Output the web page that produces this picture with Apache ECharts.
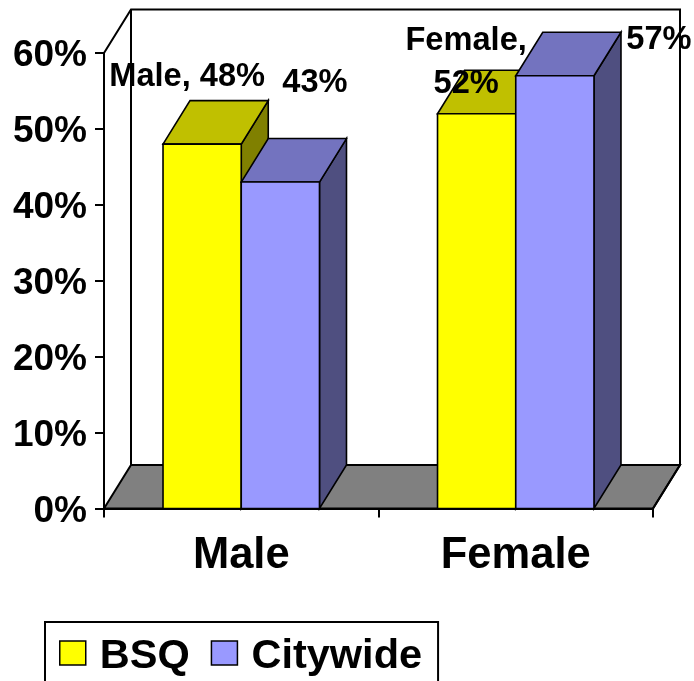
<!DOCTYPE html>
<html><head><meta charset="utf-8">
<style>html,body{margin:0;padding:0;background:#fff}#c{width:694px;height:681px}</style>
<script src="https://cdn.jsdelivr.net/npm/echarts@6/dist/echarts.min.js"></script>
</head><body><div id="c"></div>
<script>
const categories = ['Male', 'Female'];
const bsqValues = [48, 52];
const citywideValues = [43, 57];
const bsqLabels = ['Male, 48%', 'Female,\n52%'];
const citywideLabels = ['43%', '57%'];
const bsqLabelOffsets = [[-15, -67], [-10.5, -51.5]];
const citywideLabelOffsets = [[34.5, -99], [104, -36]];
const DX = 27, DY = -43.5, FONT = '"Liberation Sans", Arial, sans-serif';

function wallItem(params, api) {
  const c = params.coordSys;
  const l = c.x, r = c.x + c.width, t = c.y, b = c.y + c.height;
  const line = { stroke: '#000', lineWidth: 2, fill: null };
  return { type: 'group', children: [
    { type: 'polygon', shape: { points: [[l, b], [l + DX, b + DY], [r + DX, b + DY], [r, b]] },
      style: { fill: '#808080', stroke: '#000', lineWidth: 2 } },
    { type: 'polyline', shape: { points: [[l, t], [l + DX, t + DY], [r + DX, t + DY], [r + DX, b + DY], [r, b]] }, style: line },
    { type: 'polyline', shape: { points: [[l + DX, t + DY], [l + DX, b + DY]] }, style: line }
  ] };
}

function barRenderer(slot, front, top, side, labels, offsets) {
  return function (params, api) {
    const i = api.value(0);
    const p = api.coord([i, api.value(1)]);
    const base = api.coord([i, 0]);
    const band = api.size([1, 0])[0];
    const w = band * 0.285;
    const x0 = p[0] + (slot === 0 ? -w : 0), x1 = x0 + w, y = p[1], b = base[1];
    const st = (fill) => ({ fill: fill, stroke: '#000', lineWidth: 1.6, lineJoin: 'miter' });
    const off = offsets[params.dataIndex];
    return { type: 'group', children: [
      { type: 'polygon', shape: { points: [[x1, y], [x1 + DX, y + DY], [x1 + DX, b + DY], [x1, b]] }, style: st(side) },
      { type: 'polygon', shape: { points: [[x0, y], [x0 + DX, y + DY], [x1 + DX, y + DY], [x1, y]] }, style: st(top) },
      { type: 'rect', shape: { x: x0, y: y, width: w, height: b - y }, style: st(front) },
      { type: 'text', z2: 100, x: (x0 + x1) / 2 + off[0], y: y + off[1],
        style: { text: labels[params.dataIndex], align: 'center', verticalAlign: 'middle',
          font: 'bold 32.6px ' + FONT, fill: '#000', lineHeight: 43 } }
    ] };
  };
}

const chart = echarts.init(document.getElementById('c'), null, { renderer: 'canvas' });
chart.setOption({
  animation: false,
  backgroundColor: '#fff',
  grid: { left: 104, right: 41, top: 53, height: 455.5 },
  legend: {
    left: 45, top: 622, orient: 'horizontal',
    data: ['BSQ', 'Citywide'],
    icon: 'rect', itemWidth: 26, itemHeight: 24, itemGap: 21,
    padding: [14, 16, 20, 14],
    borderColor: '#000', borderWidth: 2,
    itemStyle: { borderColor: '#000', borderWidth: 1.5 },
    formatter: '{t|{name}}',
    textStyle: {
      fontFamily: FONT, fontWeight: 'bold', fontSize: 41.5, color: '#000',
      rich: { t: { fontFamily: FONT, fontWeight: 'bold', fontSize: 41.5, color: '#000', padding: [8, 0, 0, 9] } }
    }
  },
  xAxis: {
    type: 'category', data: categories, z: 5,
    axisLine: { lineStyle: { color: '#000', width: 2 } },
    axisTick: { show: true, alignWithLabel: false, length: 9, lineStyle: { color: '#000', width: 2 } },
    axisLabel: { fontFamily: FONT, fontWeight: 'bold', fontSize: 43.5, color: '#000', margin: 25 }
  },
  yAxis: {
    type: 'value', min: 0, max: 60, interval: 10, z: 5,
    splitLine: { show: false },
    axisLine: { show: true, lineStyle: { color: '#000', width: 2 } },
    axisTick: { show: true, length: 9, lineStyle: { color: '#000', width: 2 } },
    axisLabel: { formatter: '{value}%', fontFamily: FONT, fontWeight: 'bold', fontSize: 37, color: '#000', margin: 17, verticalAlign: 'top', lineHeight: 6 }
  },
  series: [
    { type: 'custom', name: 'walls', silent: true, z: 1, data: [[0, 0]], renderItem: wallItem, clip: false },
    { type: 'custom', name: 'BSQ', z: 2, clip: false, itemStyle: { color: '#FFFF00' },
      encode: { x: 0, y: 1 }, data: bsqValues.map((v, i) => [i, v]),
      renderItem: barRenderer(0, '#FFFF00', '#C0C000', '#808000', bsqLabels, bsqLabelOffsets) },
    { type: 'custom', name: 'Citywide', z: 3, clip: false, itemStyle: { color: '#9999FF' },
      encode: { x: 0, y: 1 }, data: citywideValues.map((v, i) => [i, v]),
      renderItem: barRenderer(1, '#9999FF', '#7373BF', '#4F4F80', citywideLabels, citywideLabelOffsets) }
  ]
});
</script></body></html>
